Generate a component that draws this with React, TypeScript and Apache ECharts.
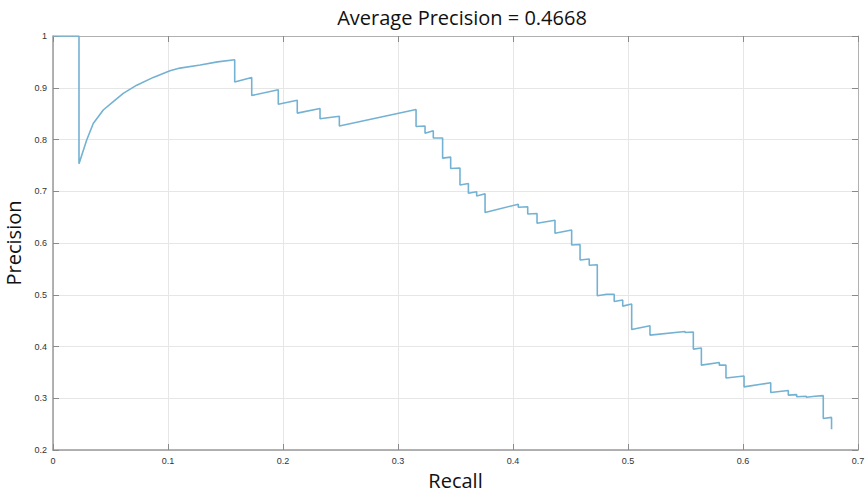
import React, { useEffect, useRef } from "react";
import * as echarts from "echarts";

const titleText = "Average Precision = 0.4668";
const xAxisName = "Recall";
const yAxisName = "Precision";

// Recall values (x) of the precision-recall curve
const recall: number[] = [
  0, 0.0226, 0.0226,
  0.0293, 0.035, 0.0437, 0.0524, 0.0611, 0.0728, 0.0872, 0.1017, 0.1104, 0.128, 0.143, 0.158,
  0.158, 0.1728, 0.1728, 0.1959, 0.1959, 0.2124, 0.2124, 0.2322, 0.2322,
  0.249, 0.249, 0.3157, 0.3157, 0.3235, 0.3235, 0.3307, 0.3307, 0.3388, 0.3388,
  0.3458, 0.3458, 0.3539, 0.3539, 0.3612, 0.3612, 0.3684, 0.3684, 0.3757, 0.3757,
  0.4046, 0.4046, 0.4128, 0.4128, 0.4209, 0.4209, 0.4365, 0.4365, 0.451, 0.451,
  0.4583, 0.4583, 0.4663, 0.4663, 0.4733, 0.4733, 0.4815, 0.488, 0.488,
  0.4954, 0.4954, 0.5032, 0.5032, 0.5191, 0.5191, 0.5496, 0.5496, 0.5568, 0.5568,
  0.5638, 0.5638, 0.5794, 0.5794, 0.5852, 0.5852, 0.6009, 0.6009, 0.6241, 0.6241,
  0.6394, 0.6394, 0.6467, 0.6467, 0.655, 0.655, 0.6626, 0.6626, 0.6698, 0.6698,
  0.677, 0.677,
];

// Precision values (y), paired with recall above
const precision: number[] = [
  1, 1, 0.753,
  0.799, 0.831, 0.857, 0.873, 0.889, 0.905, 0.92, 0.933, 0.938, 0.944, 0.95, 0.954,
  0.911, 0.92, 0.885, 0.896, 0.868, 0.876, 0.851, 0.86, 0.84,
  0.845, 0.826, 0.858, 0.825, 0.826, 0.812, 0.817, 0.803, 0.803, 0.764,
  0.766, 0.744, 0.745, 0.712, 0.715, 0.696, 0.699, 0.691, 0.695, 0.659,
  0.675, 0.669, 0.67, 0.656, 0.657, 0.638, 0.644, 0.619, 0.625, 0.596,
  0.597, 0.567, 0.569, 0.557, 0.558, 0.498, 0.501, 0.501, 0.487,
  0.49, 0.478, 0.482, 0.433, 0.44, 0.422, 0.429, 0.427, 0.428, 0.395,
  0.397, 0.364, 0.369, 0.364, 0.364, 0.339, 0.343, 0.322, 0.33, 0.311,
  0.315, 0.306, 0.307, 0.303, 0.304, 0.302, 0.304, 0.304, 0.305, 0.261,
  0.263, 0.24,
];

const xTickLabels = ["0", "0.1", "0.2", "0.3", "0.4", "0.5", "0.6", "0.7"];
const yTickLabels = ["0.2", "0.3", "0.4", "0.5", "0.6", "0.7", "0.8", "0.9", "1"];

export default function App() {
  const ref = useRef<HTMLDivElement>(null);
  useEffect(() => {
    if (!ref.current) return;
    const chart = echarts.init(ref.current, undefined, { renderer: "svg" });
    const data = recall.map((r, i) => [r, precision[i]]);
    const axisLineStyle = { color: "#9a9a9a", width: 1.5 };
    const tickStyle = { color: "#8a8a8a", width: 1 };
    chart.setOption({
      animation: false,
      backgroundColor: "#ffffff",
      title: {
        text: titleText,
        left: 457,
        top: 2,
        textAlign: "center",
        textStyle: {
          fontFamily: "Open Sans",
          fontSize: 20,
          fontWeight: "normal",
          color: "#111111",
        },
      },
      grid: {
        left: 53,
        right: 8,
        top: 36,
        bottom: 43,
        containLabel: false,
        outerBoundsMode: "none",
      },
      xAxis: [
        {
          type: "value",
          min: 0,
          max: 0.7,
          interval: 0.1,
          name: xAxisName,
          nameLocation: "middle",
          nameGap: 20,
          nameTextStyle: { fontFamily: "Open Sans", fontSize: 20, color: "#111111" },
          axisLine: { show: true, lineStyle: axisLineStyle },
          axisTick: { show: true, inside: true, length: 6, lineStyle: tickStyle },
          axisLabel: {
            margin: 6,
            fontSize: 9,
            color: "#333333",
            fontFamily: "Liberation Sans",
            formatter: (v: number) => xTickLabels[Math.round(v * 10)] ?? "",
          },
          splitLine: { show: true, lineStyle: { color: "#e6e6e6", width: 1 } },
        },
        {
          type: "value",
          position: "top",
          min: 0,
          max: 0.7,
          interval: 0.1,
          axisLine: { show: true, onZero: false, lineStyle: { color: "#b0b0b0", width: 1 } },
          axisTick: { show: true, inside: true, length: 6, lineStyle: tickStyle },
          axisLabel: { show: false },
          splitLine: { show: false },
        },
      ],
      yAxis: [
        {
          type: "value",
          min: 0.2,
          max: 1,
          interval: 0.1,
          name: yAxisName,
          nameLocation: "middle",
          nameGap: 26,
          nameTextStyle: { fontFamily: "Open Sans", fontSize: 20, color: "#111111" },
          axisLine: { show: true, lineStyle: axisLineStyle },
          axisTick: { show: true, inside: true, length: 6, lineStyle: tickStyle },
          axisLabel: {
            margin: 6,
            fontSize: 9,
            color: "#333333",
            fontFamily: "Liberation Sans",
            formatter: (v: number) => yTickLabels[Math.round(v * 10) - 2] ?? "",
          },
          splitLine: { show: true, lineStyle: { color: "#e6e6e6", width: 1 } },
        },
        {
          type: "value",
          position: "right",
          min: 0.2,
          max: 1,
          interval: 0.1,
          axisLine: { show: true, onZero: false, lineStyle: { color: "#b0b0b0", width: 1 } },
          axisTick: { show: true, inside: true, length: 6, lineStyle: tickStyle },
          axisLabel: { show: false },
          splitLine: { show: false },
        },
      ],
      series: [
        {
          type: "line",
          data,
          xAxisIndex: 0,
          yAxisIndex: 0,
          showSymbol: false,
          symbol: "none",
          smooth: false,
          lineStyle: { color: "#74b2d3", width: 1.6 },
          z: 5,
        },
      ],
    });
    return () => chart.dispose();
  }, []);
  return (
    <div
      ref={ref}
      style={{ position: "fixed", left: 0, top: 0, width: 866, height: 493, background: "#fff" }}
    />
  );
}
